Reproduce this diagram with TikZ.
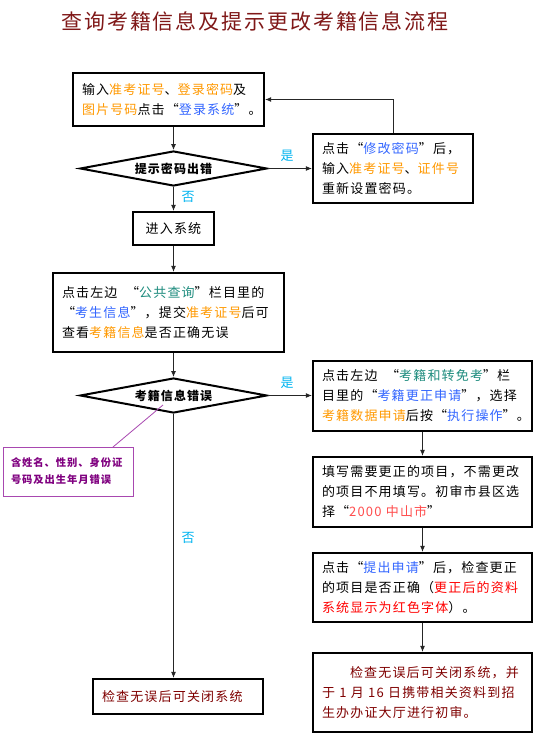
\documentclass[tikz,border=0pt]{standalone}
\usepackage{fontspec}
\setmainfont{Noto Sans CJK SC}[LetterSpace=9]
\usetikzlibrary{shapes.geometric,arrows.meta}
\definecolor{corange}{HTML}{FF9900}
\definecolor{cblue}{HTML}{3366FF}
\definecolor{cteal}{HTML}{1E8C7E}
\definecolor{cred}{HTML}{FF0000}
\definecolor{cpink}{HTML}{FF4D4D}
\definecolor{cdark}{HTML}{800000}
\definecolor{ctitle}{HTML}{801818}
\definecolor{cpurple}{HTML}{800080}
\definecolor{cpline}{HTML}{A848B0}
\definecolor{ccyan}{HTML}{00B4F0}
\newcommand\cOr[1]{\textcolor{corange}{#1}}
\newcommand\cBl[1]{\textcolor{cblue}{#1}}
\newcommand\cTl[1]{\textcolor{cteal}{#1}}
\newcommand\cRd[1]{\textcolor{cred}{#1}}
\newcommand\cPk[1]{\textcolor{cpink}{#1}}
\begin{document}
\begin{tikzpicture}[x=1pt,y=-1pt,
  box/.style={draw=black, line width=2.2pt, fill=white, inner xsep=9pt, inner ysep=0pt,
    align=left, font=\fontsize{13}{20}\selectfont},
  boxc/.style={draw=black, line width=2.2pt, fill=white, inner sep=0pt,
    align=center, font=\fontsize{13}{20}\selectfont},
  dia/.style={draw=black, line width=2pt, fill=white, diamond, shape aspect=5.3,
    inner sep=0pt, minimum width=187pt, minimum height=35pt,
    font=\fontsize{12}{16}\selectfont\bfseries},
  note/.style={draw=cpline, line width=1pt, fill=white, inner xsep=8pt, inner ysep=0pt,
    align=left, text=cpurple, font=\fontsize{10.3}{17}\selectfont\bfseries},
  lab/.style={text=ccyan, inner sep=0pt, font=\fontsize{13}{16}\selectfont},
  arr/.style={draw=black!85, line width=0.9pt, -{Latex[length=6pt,width=5pt]}},
  ttl/.style={text=ctitle, inner sep=0pt, font=\fontsize{21}{26}\selectfont}]
\fill[white] (0,0) rectangle (540,741);
\useasboundingbox (0,0) rectangle (540,741);

\node[ttl] (title) at (255,21) {查询考籍信息及提示更改考籍信息流程};

\node[box, text width=173pt, minimum height=53pt] (b1) at (168.5,99.5)
  {输入\cOr{准考证号}、\cOr{登录密码}及\\\cOr{图片号码}点击“\cBl{登录系统}”。};
\node[dia] (d1) at (173.5,168.5) {提示密码出错};
\node[box, text width=142pt, minimum height=69pt] (r1) at (393,168.5)
  {点击“\cBl{修改密码}”后，\\输入\cOr{准考证号}、\cOr{证件号}\\重新设置密码。};
\node[boxc, minimum width=81pt, minimum height=33pt] (s1) at (173.5,228.5) {进入系统};
\node[box, text width=213pt, minimum height=79pt] (b2) at (168.5,312.5)
  {点击左边\ \ “\cTl{公共查询}”栏目里的\\“\cBl{考生信息}”，提交\cOr{准考证号}后可\\查看\cOr{考籍信息}是否正确无误};
\node[dia] (d2) at (173.5,395.5) {考籍信息错误};
\node[box, text width=201pt, minimum height=70pt] (r2) at (422.5,396)
  {点击左边\ \ “\cTl{考籍和转免考}”栏\\目里的“\cBl{考籍更正申请}”，选择\\\cOr{考籍数据申请}后按“\cBl{执行操作}”。};
\node[box, text width=201pt, minimum height=70pt] (r3) at (422.5,492)
  {填写需要更正的项目，不需更改\\的项目不用填写。初审市县区选\\择“\cPk{2000 中山市}”};
\node[box, text width=201pt, minimum height=69pt] (r4) at (422.5,587.5)
  {点击“\cBl{提出申请}”后，检查更正\\的项目是否正确（\cRd{更正后的资料}\\\cRd{系统显示为红色字体}）。};
\node[box, text width=201pt, minimum height=79pt, text=cdark] (r5) at (422.5,692.5)
  {\hspace*{28pt}检查无误后可关闭系统，并\\于 1 月 16 日携带相关资料到招\\生办办证大厅进行初审。};
\node[box, text width=152pt, minimum height=35pt, text=cdark] (f) at (178,696.5)
  {检查无误后可关闭系统};
\node[note, text width=114pt, minimum height=49pt] (nt) at (68,471.5)
  {含姓名、性别、身份证\\号码及出生年月错误};

\node[lab] (y1) at (287,156) {是};
\node[lab] (n1) at (188,197) {否};
\node[lab] (y2) at (287,383) {是};
\node[lab] (n2) at (188,538) {否};

\coordinate (p1) at (163,405);
\coordinate (pn) at (113,447);

\draw[arr] (b1.south -| d1.north) -- (d1.north);
\draw[arr] (d1.east) -- (r1.west);
\draw[arr] (r1.north) |- (b1.east);
\draw[arr] (d1.south) -- (s1.north);
\draw[arr] (s1.south) -- (s1.south |- b2.north);
\draw[arr] (b2.south -| d2.north) -- (d2.north);
\draw[arr] (d2.east) -- (d2.east -| r2.west);
\draw[arr] (r2.south) -- (r3.north);
\draw[arr] (r3.south) -- (r4.north);
\draw[arr] (r4.south) -- (r5.north);
\draw[arr] (d2.south) -- (d2.south |- f.north);
\draw[draw=cpline, line width=0.8pt] (p1) -- (pn);
\end{tikzpicture}
\end{document}
